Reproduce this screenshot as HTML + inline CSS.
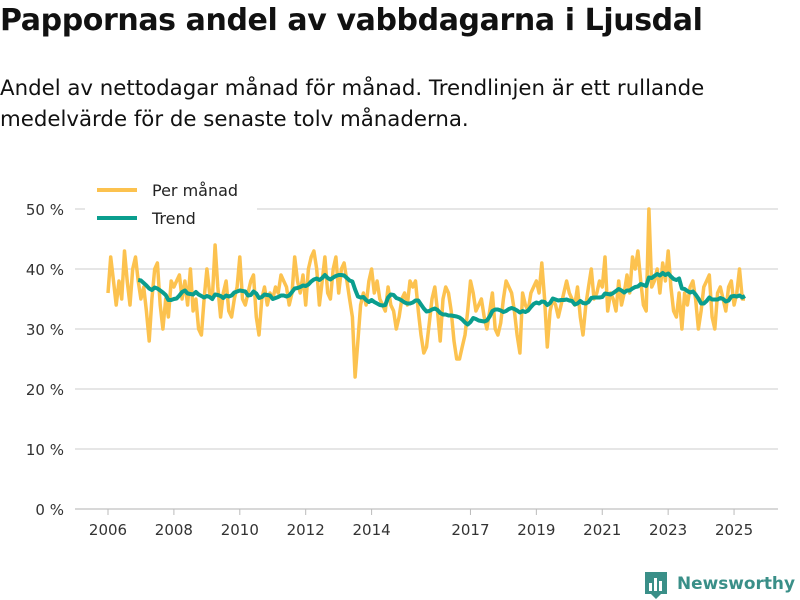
<!DOCTYPE html>
<html><head><meta charset="utf-8"><style>
body{margin:0;width:800px;height:600px;background:#fff;font-family:"Liberation Sans","DejaVu Sans",sans-serif;overflow:hidden;position:relative}
h1{position:absolute;left:0;top:3px;margin:0;font-size:30px;font-weight:bold;color:#111;font-family:"DejaVu Sans",sans-serif;letter-spacing:-0.4px}
p{position:absolute;left:0;top:73px;margin:0;font-size:21.3px;line-height:31px;color:#111;font-family:"DejaVu Sans",sans-serif;letter-spacing:0px}
svg{position:absolute;left:0;top:0}
</style></head><body>
<h1>Pappornas andel av vabbdagarna i Ljusdal</h1>
<p>Andel av nettodagar månad för månad. Trendlinjen är ett rullande<br>medelvärde för de senaste tolv månaderna.</p>
<svg id="chart" width="800" height="600"></svg>
<script>
const startYear = 2006;
const monthly = [
36,42,38,34,38,35,43,38,34,40,42,38,
35,37,33,28,35,40,41,34,30,35,32,38,
37,38,39,35,38,34,40,33,35,30,29,35,
40,36,35,44,37,32,36,38,33,32,35,37,
42,35,34,36,38,39,32,29,35,37,34,36,
35,37,36,39,38,37,34,36,42,38,36,39,
34,40,42,43,40,34,38,42,36,35,40,42,
36,40,41,38,35,32,22,28,34,36,34,38,
40,36,38,35,34,33,37,34,33,30,32,35,
36,34,38,37,38,33,29,26,27,31,35,37,
33,28,35,37,36,33,28,25,25,27,29,33,
38,36,33,34,35,32,30,33,36,30,29,31,
35,38,37,36,33,29,26,36,34,33,36,37,
38,36,41,35,27,33,35,34,32,34,36,38,
36,35,34,37,32,29,34,37,40,35,36,38,
37,42,33,36,35,33,38,34,36,39,36,42,
40,43,38,34,33,50,37,38,40,36,41,38,
43,37,33,32,36,30,36,34,37,38,35,30,
33,37,38,39,32,30,36,37,35,33,37,38,
34,36,40,35,35];
const yTicks = [0,10,20,30,40,50];
const xTicks = [2006,2008,2010,2012,2014,2017,2019,2021,2023,2025];

const svg = document.getElementById('chart');
const NS = 'http://www.w3.org/2000/svg';
const xs = t => 108 + (t - 2006) * 32.95;
const ys = v => 509 - v * 6;
function mk(tag, attrs, parent){const e=document.createElementNS(NS,tag);for(const k in attrs)e.setAttribute(k,attrs[k]);(parent||svg).appendChild(e);return e;}

yTicks.forEach(v=>{
  const g=mk('line',{x1:75,x2:778,y1:ys(v),y2:ys(v),stroke:v===0?'#ccc':'#ddd','stroke-width':1.5});
  
  
  const t=mk('text',{x:64,y:ys(v)+6,'text-anchor':'end','font-size':15,fill:'#333','font-family':'DejaVu Sans,sans-serif'});
  t.textContent=v+' %';
  
  
});
xTicks.forEach(y=>{
  const l=mk('line',{x1:xs(y),x2:xs(y),y1:509,y2:515,stroke:'#bbb','stroke-width':1});
  
  
  const t=mk('text',{x:xs(y),y:535,'text-anchor':'middle','font-size':15,fill:'#333','font-family':'DejaVu Sans,sans-serif'});
  t.textContent=y;
  
  
});
const tOf = i => startYear + i/12;
const mp = monthly.map((v,i)=>xs(tOf(i)).toFixed(1)+','+ys(v).toFixed(1)).join(' ');
const ml=mk('polyline',{points:mp,fill:'none',stroke:'#fcc24f','stroke-width':3.5,'stroke-linejoin':'round'});


const trend=[];
for(let i=11;i<monthly.length;i++){let s=0;for(let j=i-11;j<=i;j++)s+=monthly[j];trend.push([i,s/12]);}
const tp=trend.map(([i,v])=>xs(tOf(i)).toFixed(1)+','+ys(v).toFixed(1)).join(' ');
const tl=mk('polyline',{points:tp,fill:'none',stroke:'#0a9e8e','stroke-width':4,'stroke-linejoin':'round'});



const lg=mk('g',{});


mk('rect',{x:85,y:176,width:172,height:58,fill:'#fff'},lg);
mk('line',{x1:97,x2:137,y1:190,y2:190,stroke:'#fcc24f','stroke-width':4},lg);
mk('line',{x1:97,x2:137,y1:218,y2:218,stroke:'#0a9e8e','stroke-width':4},lg);
const l1=mk('text',{x:152,y:196,'font-size':16,fill:'#222','font-family':'DejaVu Sans,sans-serif'},lg);l1.textContent='Per månad';
const l2=mk('text',{x:152,y:224,'font-size':16,fill:'#222','font-family':'DejaVu Sans,sans-serif'},lg);l2.textContent='Trend';

const logo=mk('g',{});


mk('path',{d:'M645 572 h22 v22 h-6 l-5 5 l-5 -5 h-6 z',fill:'#3a8f88'},logo);
mk('rect',{x:649,y:583,width:3,height:8,fill:'#fff'},logo);
mk('rect',{x:654,y:578,width:3,height:13,fill:'#fff'},logo);
mk('rect',{x:659,y:581,width:3,height:10,fill:'#fff'},logo);
const lt=mk('text',{x:677,y:589,'font-size':17,'font-weight':'bold',fill:'#3a8f88','font-family':'DejaVu Sans,sans-serif','textLength':118,'lengthAdjust':'spacingAndGlyphs'},logo);lt.textContent='Newsworthy';
</script>
</body></html>
